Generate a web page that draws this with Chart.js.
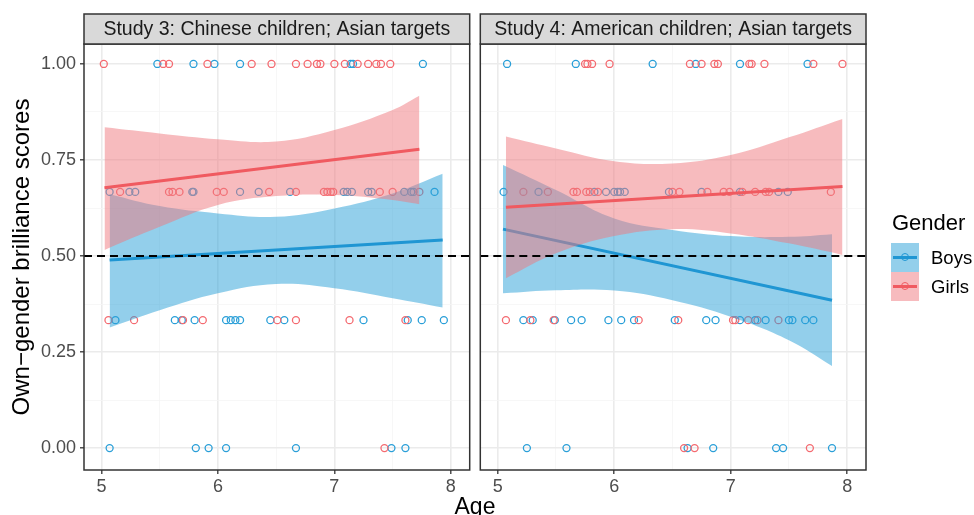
<!DOCTYPE html>
<html>
<head>
<meta charset="utf-8">
<script src="https://cdn.jsdelivr.net/npm/chart.js@4.4.1/dist/chart.umd.min.js"></script>
<style>
  body { margin: 0; background: #fff; font-family: "Liberation Sans", Arial, sans-serif; }
  #wrap { position: relative; width: 974px; height: 515px; overflow: hidden; }
  canvas { position: absolute; top: 0; }
  #left { left: 0; }
  #right { left: 475px; }
  .txt { position: absolute; color: #000; white-space: nowrap; }
  .key { position: absolute; left: 891px; width: 28px; height: 29px; }
  .key .ln { position: absolute; left: 2px; right: 2px; top: 13px; height: 3px; }
  .key .dot { position: absolute; left: 10px; top: 10px; width: 6px; height: 6px; border-radius: 50%; border: 1.5px solid; }
</style>
</head>
<body>
<div id="wrap">
  <canvas id="left" width="475" height="515"></canvas>
  <canvas id="right" width="499" height="515"></canvas>
  <div class="txt" style="left:475px; top:495px; transform:translateX(-50%); font-size:23px; line-height:23px;">Age</div>
  <div class="txt" style="left:892px; top:210px; font-size:22px; line-height:26px;">Gender</div>
  <div class="key" style="top:243px; background:rgba(40,160,215,0.5);">
    <div class="ln" style="background:#1f96d3;"></div><div class="dot" style="border-color:#1f96d3;"></div>
  </div>
  <div class="key" style="top:272px; background:rgba(240,120,125,0.5);">
    <div class="ln" style="background:#f05a60;"></div><div class="dot" style="border-color:#f05a60;"></div>
  </div>
  <div class="txt" style="left:931px; top:247px; font-size:18.5px; line-height:22px;">Boys</div>
  <div class="txt" style="left:931px; top:276px; font-size:18.5px; line-height:22px;">Girls</div>
</div>
<script>
// axis ticks
const xTicks = [5, 6, 7, 8];
const xMinor = [5.5, 6.5, 7.5];
const yTicks = [0, 0.25, 0.5, 0.75, 1];
const yTickLabels = ['0.00', '0.25', '0.50', '0.75', '1.00'];
const yMinor = [0.125, 0.375, 0.625, 0.875];
const refScore = 0.5;

// Study 3 raw points: ages for each score level
const s3Boys100 = [5.48, 5.79, 5.97, 6.19, 7.14, 7.16, 7.76];
const s3Girls100 = [5.02, 5.53, 5.58, 5.91, 6.29, 6.46, 6.67, 6.77, 6.85, 6.88, 7.00, 7.09, 7.20, 7.29, 7.36, 7.40, 7.48];
const s3Boys067 = [5.07, 5.24, 5.29, 5.78, 5.79, 6.19, 6.35, 6.62, 7.08, 7.11, 7.15, 7.29, 7.32, 7.60, 7.66, 7.68, 7.86];
const s3Girls067 = [5.16, 5.58, 5.61, 5.67, 5.99, 6.05, 6.44, 6.67, 6.91, 6.94, 6.97, 6.99, 7.39, 7.50, 7.73];
const s3Boys033 = [5.12, 5.63, 5.69, 5.80, 6.07, 6.11, 6.15, 6.19, 6.45, 6.57, 7.25, 7.63, 7.75, 7.94];
const s3Girls033 = [5.06, 5.28, 5.70, 5.87, 6.51, 6.67, 7.13, 7.61];
const s3Boys000 = [5.07, 5.81, 5.92, 6.07, 6.67, 7.49, 7.61];
const s3Girls000 = [7.43];

// Study 4 raw points
const s4Boys100 = [5.08, 5.67, 6.33, 6.70, 7.08, 7.66];
const s4Girls100 = [5.75, 5.77, 5.81, 5.96, 6.65, 6.75, 6.86, 6.89, 7.16, 7.18, 7.29, 7.71, 7.96];
const s4Boys067 = [5.05, 5.35, 5.83, 5.93, 6.00, 6.03, 6.05, 6.09, 6.47, 6.75, 7.08, 7.41, 7.49];
const s4Girls067 = [5.22, 5.43, 5.65, 5.68, 5.76, 5.79, 5.86, 6.50, 6.56, 6.80, 6.94, 6.99, 7.10, 7.21, 7.30, 7.33, 7.86];
const s4Boys033 = [5.22, 5.30, 5.49, 5.63, 5.72, 5.95, 6.06, 6.17, 6.52, 6.79, 6.87, 7.08, 7.21, 7.30, 7.50, 7.53, 7.64, 7.71];
const s4Girls033 = [5.07, 5.28, 5.48, 6.21, 6.55, 7.02, 7.04, 7.15, 7.23, 7.41];
const s4Boys000 = [5.25, 5.59, 6.63, 6.85, 7.39, 7.45, 7.87];
const s4Girls000 = [6.60, 6.69, 7.68];

// fitted lines and confidence bands
const s3BoysBandAges = [5.07, 5.5, 6.0, 6.5, 7.0, 7.5, 7.93];
const s3BoysUpper = [0.661, 0.630, 0.611, 0.602, 0.624, 0.663, 0.714];
const s3BoysLower = [0.314, 0.359, 0.403, 0.427, 0.416, 0.390, 0.366];
const s3BoysFit = [0.490, 0.542];

const s3GirlsBandAges = [5.026, 5.5, 6.0, 6.5, 7.0, 7.5, 7.73];
const s3GirlsUpper = [0.835, 0.819, 0.804, 0.798, 0.828, 0.880, 0.917];
const s3GirlsLower = [0.516, 0.576, 0.633, 0.656, 0.659, 0.646, 0.635];
const s3GirlsFit = [0.678, 0.778];

const s4BoysBandAges = [5.045, 5.5, 6.0, 6.5, 7.0, 7.5, 7.87];
const s4BoysUpper = [0.737, 0.672, 0.598, 0.568, 0.552, 0.550, 0.557];
const s4BoysLower = [0.403, 0.411, 0.410, 0.385, 0.342, 0.281, 0.214];
const s4BoysFit = [0.570, 0.385];

const s4GirlsBandAges = [5.07, 5.5, 6.0, 6.5, 7.0, 7.5, 7.96];
const s4GirlsUpper = [0.811, 0.780, 0.747, 0.741, 0.763, 0.809, 0.857];
const s4GirlsLower = [0.442, 0.507, 0.552, 0.570, 0.559, 0.533, 0.503];
const s4GirlsFit = [0.627, 0.681];

const BLUE = '#1f96d3', BLUE_PT = '#2a9fd8', BLUE_FILL = 'rgba(40,160,215,0.5)';
const RED = '#f05a60', RED_PT = '#f46a70', RED_FILL = 'rgba(240,120,125,0.5)';
const FONT = '"Liberation Sans", Arial, sans-serif';

function pts(ages, score) {
  return ages.map(a => ({ x: a, y: score }));
}
function curve(ages, vals) {
  return ages.map((a, i) => ({ x: a, y: vals[i] }));
}
function ends(ages, fit) {
  return [{ x: ages[0], y: fit[0] }, { x: ages[ages.length - 1], y: fit[1] }];
}

function pointSet(data, color, order) {
  return {
    data, showLine: false, order,
    pointStyle: 'circle', pointRadius: 3.5, pointBorderWidth: 1.3,
    pointBorderColor: color, pointBackgroundColor: 'rgba(0,0,0,0)',
  };
}
function bandSets(ages, upper, lower, fill, order) {
  return [
    { data: curve(ages, upper), fill: '+1', backgroundColor: fill, borderWidth: 0,
      borderColor: 'rgba(0,0,0,0)', pointRadius: 0, tension: 0.4, order },
    { data: curve(ages, lower), fill: false, borderWidth: 0,
      borderColor: 'rgba(0,0,0,0)', pointRadius: 0, tension: 0.4, order },
  ];
}
function fitSet(data, color, order) {
  return { data, borderColor: color, borderWidth: 3, pointRadius: 0, fill: false, order };
}

const facetPlugin = {
  id: 'facet',
  afterDatasetsDraw(chart) {
    const { ctx, chartArea: a, scales } = chart;
    const y = scales.y.getPixelForValue(refScore);
    ctx.save();
    ctx.strokeStyle = '#000';
    ctx.lineWidth = 2;
    ctx.setLineDash([8, 5]);
    ctx.beginPath();
    ctx.moveTo(a.left, y);
    ctx.lineTo(a.right, y);
    ctx.stroke();
    ctx.restore();
  },
  afterDraw(chart, args, opts) {
    const { ctx, chartArea: a } = chart;
    ctx.save();
    ctx.lineWidth = 1.5;
    ctx.strokeStyle = '#333';
    ctx.strokeRect(a.left, a.top, a.right - a.left, a.bottom - a.top);
    ctx.fillStyle = '#D9D9D9';
    ctx.fillRect(a.left, a.top - 30, a.right - a.left, 30);
    ctx.strokeRect(a.left, a.top - 30, a.right - a.left, 30);
    ctx.fillStyle = '#1A1A1A';
    ctx.font = '19.5px ' + FONT;
    ctx.textAlign = 'center';
    ctx.textBaseline = 'middle';
    ctx.fillText(opts.text, (a.left + a.right) / 2, a.top - 14.5);
    ctx.restore();
  }
};

function gridColor(major) {
  return c => major.includes(c.tick && c.tick.value) ? '#EBEBEB' : '#F5F5F5';
}
function gridWidth(major) {
  return c => major.includes(c.tick && c.tick.value) ? 1.6 : 0.8;
}

function makePanel(id, strip, boysPts, girlsPts, bBand, gBand, bFit, gFit, isLeft) {
  const datasets = [
    pointSet(boysPts, BLUE_PT, 10),
    pointSet(girlsPts, RED_PT, 9),
    ...bandSets(bBand[0], bBand[1], bBand[2], BLUE_FILL, 6),
    fitSet(bFit, BLUE, 5),
    ...bandSets(gBand[0], gBand[1], gBand[2], RED_FILL, 4),
    fitSet(gFit, RED, 3),
  ];
  return new Chart(document.getElementById(id), {
    type: 'line',
    data: { datasets },
    plugins: [facetPlugin],
    options: {
      responsive: false,
      animation: false,
      devicePixelRatio: 1,
      layout: { padding: { top: 44, right: isLeft ? 4 : 108, left: 0, bottom: 0 } },
      plugins: {
        legend: { display: false },
        tooltip: { enabled: false },
        facet: { text: strip },
      },
      scales: {
        x: {
          type: 'linear', min: 4.85, max: 8.162,
          afterBuildTicks: s => { s.ticks = [...xTicks, ...xMinor].sort((p, q) => p - q).map(v => ({ value: v })); },
          afterFit: s => { s.height = 45; },
          grid: {
            color: gridColor(xTicks), lineWidth: gridWidth(xTicks),
            tickColor: c => xTicks.includes(c.tick && c.tick.value) ? '#333' : 'rgba(0,0,0,0)',
            tickLength: 4, tickWidth: 1.3,
          },
          border: { display: false },
          ticks: {
            autoSkip: false, maxRotation: 0, padding: 2,
            color: '#4D4D4D', font: { size: 18, family: FONT },
            callback: v => xTicks.includes(v) ? String(v) : '',
          },
        },
        y: {
          type: 'linear', min: -0.057, max: 1.052,
          afterBuildTicks: s => { s.ticks = [...yTicks, ...yMinor].sort((p, q) => p - q).map(v => ({ value: v })); },
          afterFit: s => { s.width = isLeft ? 84 : 4; },
          grid: {
            color: gridColor(yTicks), lineWidth: gridWidth(yTicks),
            tickColor: c => isLeft && yTicks.includes(c.tick && c.tick.value) ? '#333' : 'rgba(0,0,0,0)',
            tickLength: 4, tickWidth: 1.3,
          },
          border: { display: false },
          title: {
            display: isLeft, text: 'Own\u2212gender brilliance scores',
            color: '#000', font: { size: 24, family: FONT }, padding: { top: 8, bottom: 0 },
          },
          ticks: {
            display: isLeft, autoSkip: false, padding: 4,
            color: '#4D4D4D', font: { size: 18, family: FONT },
            callback: v => { const i = yTicks.indexOf(v); return i >= 0 ? yTickLabels[i] : ''; },
          },
        },
      },
    },
  });
}

makePanel('left', 'Study 3: Chinese children; Asian targets',
  [...pts(s3Boys000, 0), ...pts(s3Boys033, 0.333), ...pts(s3Boys067, 0.667), ...pts(s3Boys100, 1)],
  [...pts(s3Girls000, 0), ...pts(s3Girls033, 0.333), ...pts(s3Girls067, 0.667), ...pts(s3Girls100, 1)],
  [s3BoysBandAges, s3BoysUpper, s3BoysLower],
  [s3GirlsBandAges, s3GirlsUpper, s3GirlsLower],
  ends(s3BoysBandAges, s3BoysFit), ends(s3GirlsBandAges, s3GirlsFit), true);

makePanel('right', 'Study 4: American children; Asian targets',
  [...pts(s4Boys000, 0), ...pts(s4Boys033, 0.333), ...pts(s4Boys067, 0.667), ...pts(s4Boys100, 1)],
  [...pts(s4Girls000, 0), ...pts(s4Girls033, 0.333), ...pts(s4Girls067, 0.667), ...pts(s4Girls100, 1)],
  [s4BoysBandAges, s4BoysUpper, s4BoysLower],
  [s4GirlsBandAges, s4GirlsUpper, s4GirlsLower],
  ends(s4BoysBandAges, s4BoysFit), ends(s4GirlsBandAges, s4GirlsFit), false);
</script>
</body>
</html>
